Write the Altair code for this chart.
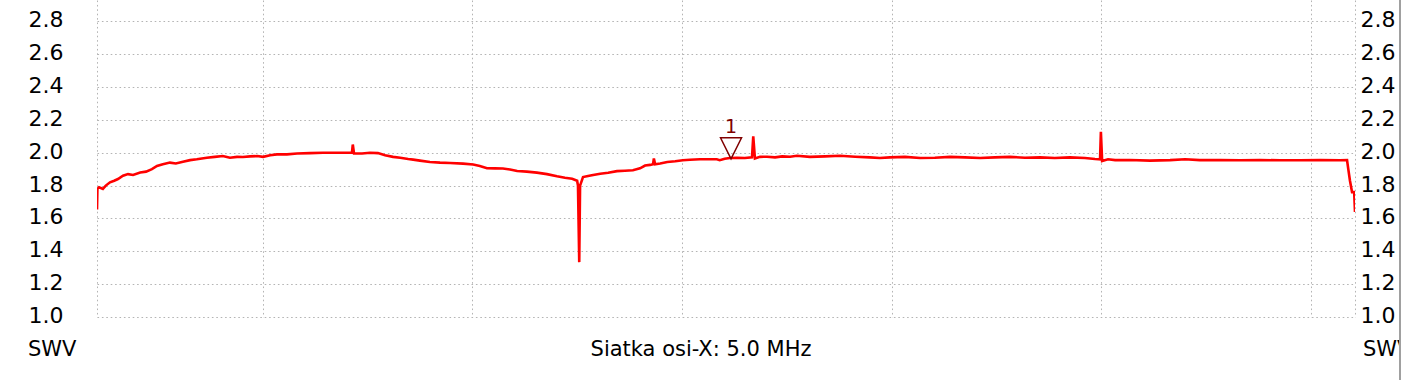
import altair as alt
import pandas as pd

# ---- data ----
freq_mhz = [
    1.05, 1.06, 1.10, 1.19, 1.26, 1.36, 1.46, 1.55, 1.67, 1.79,
    1.91, 2.08, 2.22, 2.36, 2.48, 2.62, 2.79, 2.93, 3.10, 3.27,
    3.43, 3.67, 3.86, 4.05, 4.22, 4.39, 4.53, 4.70, 4.87, 5.01,
    5.18, 5.34, 5.58, 5.82, 6.13, 6.44, 6.80, 7.13, 7.15, 7.18,
    7.37, 7.56, 7.75, 7.92, 8.11, 8.28, 8.47, 8.59, 8.75, 8.99,
    9.23, 9.47, 9.78, 10.02, 10.18, 10.35, 10.54, 10.73, 10.90, 11.07,
    11.30, 11.54, 11.78, 12.02, 12.21, 12.38, 12.50, 12.52, 12.55, 12.57,
    12.64, 12.76, 12.85, 13.05, 13.24, 13.45, 13.64, 13.83, 14.00, 14.12,
    14.24, 14.31, 14.33, 14.36, 14.48, 14.65, 14.84, 15.02, 15.19, 15.43,
    15.66, 15.83, 15.90, 16.02, 16.14, 16.31, 16.50, 16.67, 16.70, 16.74,
    16.86, 17.03, 17.22, 17.39, 17.58, 17.74, 18.05, 18.41, 18.77, 19.13,
    19.48, 19.72, 19.96, 20.32, 20.68, 21.03, 21.39, 21.75, 22.11, 22.46,
    22.82, 23.18, 23.54, 23.89, 24.25, 24.61, 24.85, 24.97, 24.99, 25.02,
    25.16, 25.33, 25.68, 26.16, 26.64, 27.00, 27.35, 27.83, 28.31, 28.78,
    29.26, 29.74, 30.22, 30.69, 30.86, 30.89, 30.93, 30.98, 31.03, 31.05,
]
swr = [
    1.655, 1.78, 1.79, 1.78, 1.80, 1.82, 1.83, 1.84, 1.86, 1.87,
    1.865, 1.88, 1.885, 1.90, 1.92, 1.93, 1.94, 1.935, 1.945, 1.955,
    1.96, 1.97, 1.975, 1.98, 1.97, 1.975, 1.974, 1.978, 1.98, 1.975,
    1.985, 1.99, 1.99, 1.995, 1.998, 2.0, 2.0, 2.0, 2.05, 1.995,
    1.995, 2.0, 1.998, 1.985, 1.975, 1.97, 1.962, 1.958, 1.952, 1.944,
    1.94, 1.938, 1.934, 1.928, 1.92, 1.906, 1.905, 1.904, 1.898, 1.889,
    1.885, 1.879, 1.87, 1.857, 1.848, 1.842, 1.83, 1.80, 1.334, 1.80,
    1.852, 1.858, 1.863, 1.872, 1.878, 1.888, 1.89, 1.893, 1.905, 1.922,
    1.926, 1.93, 1.965, 1.93, 1.935, 1.944, 1.948, 1.954, 1.957, 1.96,
    1.96, 1.96, 1.955, 1.963, 1.968, 1.97, 1.968, 1.972, 2.10, 1.965,
    1.975, 1.976, 1.972, 1.978, 1.976, 1.982, 1.975, 1.978, 1.982, 1.976,
    1.972, 1.968, 1.972, 1.975, 1.968, 1.97, 1.975, 1.972, 1.968, 1.972,
    1.975, 1.97, 1.972, 1.968, 1.972, 1.968, 1.962, 1.96, 2.127, 1.95,
    1.96, 1.955, 1.956, 1.952, 1.955, 1.96, 1.955, 1.955, 1.954, 1.956,
    1.954, 1.954, 1.955, 1.954, 1.955, 1.90, 1.83, 1.76, 1.76, 1.64,
]
y_ticks = [1.0, 1.2, 1.4, 1.6, 1.8, 2.0, 2.2, 2.4, 2.6, 2.8]
x_grid = [1.05, 5, 10, 15, 20, 25, 30, 31.05]
marker_label = ["1"]
marker_freq = [16.17]
marker_swr = [1.96]
x_caption = ["Siatka osi-X: 5.0 MHz"]
y_caption = ["SWV"]

df = pd.DataFrame({"f": freq_mhz, "swr": swr})
mk = pd.DataFrame({"f": marker_freq, "swr": marker_swr, "label": marker_label})

xs = alt.Scale(domain=[1.05, 31.05], nice=False, zero=False)
ys = alt.Scale(domain=[1.0, 2.93], nice=False, zero=False)

FONT = "DejaVu Sans"
GRID = "#b4b4b4"
DASH = [1.6, 2.8]

x_axis = alt.Axis(values=x_grid, labels=False, title=None, grid=True, ticks=False,
                  domain=False, gridColor=GRID, gridDash=DASH, gridWidth=1)
y_axis_left = alt.Axis(values=y_ticks, format=".1f", orient="left", title=None,
                       grid=True, ticks=False, domain=False, gridColor=GRID,
                       gridDash=DASH, gridWidth=1, labelFont=FONT, labelFontSize=22,
                       labelColor="black", labelPadding=34, labelBaseline="alphabetic",
                       labelOffset=5.5)
y_axis_right = alt.Axis(values=y_ticks, format=".1f", orient="right", title=None,
                        grid=False, ticks=False, domain=False, labelFont=FONT,
                        labelFontSize=22, labelColor="black", labelPadding=5,
                        labelBaseline="alphabetic", labelOffset=5.5)

line = alt.Chart(df).mark_line(color="#ff0000", strokeWidth=2.6, clip=True).encode(
    x=alt.X("f:Q", scale=xs, axis=x_axis),
    y=alt.Y("swr:Q", scale=ys, axis=y_axis_left),
)

tri = alt.Chart(mk).mark_point(shape="M-1,-1L1,-1L0,1Z", size=441, filled=False,
                               stroke="#800000", strokeWidth=1.5, yOffset=-11,
                               opacity=1).encode(
    x=alt.X("f:Q", scale=xs, axis=x_axis),
    y=alt.Y("swr:Q", scale=ys, axis=y_axis_right),
)

tri_lbl = alt.Chart(mk).mark_text(font=FONT, fontSize=19, color="#800000",
                                  align="center", baseline="alphabetic", yOffset=-26).encode(
    x=alt.X("f:Q", scale=xs, axis=x_axis),
    y=alt.Y("swr:Q", scale=ys, axis=None),
    text="label:N",
)

def caption(values, xpx, align):
    return alt.Chart(pd.DataFrame({"t": values})).mark_text(
        font=FONT, fontSize=21, color="black", align=align, baseline="alphabetic"
    ).encode(x=alt.value(xpx), y=alt.value(356), text="t:N")

cap_left = caption(y_caption, -69, "left")
cap_mid = caption(x_caption, 604, "center")
cap_right = caption(y_caption, 1266, "left")

border = alt.Chart(pd.DataFrame({"a": [0]})).mark_rule(color="#a0a0a0", strokeWidth=2).encode(
    x=alt.value(1303), y=alt.value(0), y2=alt.value(380))
blank = alt.Chart(pd.DataFrame({"a": [0]})).mark_rect(color="white").encode(
    x=alt.value(1304), x2=alt.value(1312), y=alt.value(-5), y2=alt.value(385))

chart = alt.layer(line, tri, tri_lbl, cap_left, cap_mid, cap_right, border, blank).resolve_scale(
    y="independent"
).properties(
    width=1258, height=317,
    autosize=alt.AutoSizeParams(type="none"),
    padding={"left": 97, "top": 0, "right": 49, "bottom": 63},
    background="white",
).configure_view(strokeWidth=0)

chart.save("out.html", embed_options={"renderer": "svg", "actions": False})
